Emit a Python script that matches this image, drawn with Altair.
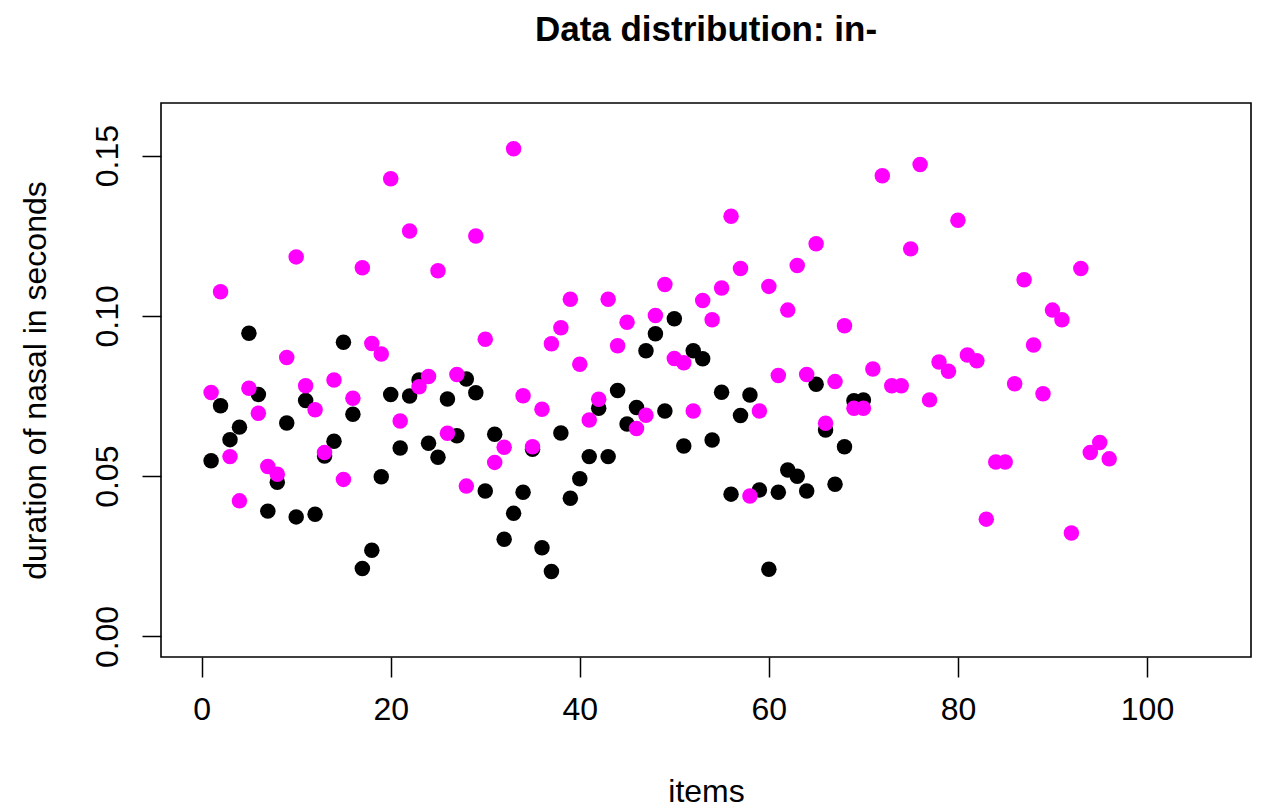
import altair as alt
import pandas as pd

# magenta series: items 1..96
magenta_y = [
    0.0761, 0.1075, 0.0561, 0.0423, 0.0774, 0.0696, 0.0530, 0.0506, 0.0870, 0.1184,
    0.0782, 0.0707, 0.0574, 0.0800, 0.0490, 0.0743, 0.1150, 0.0914, 0.0881, 0.1428,
    0.0672, 0.1265, 0.0779, 0.0811, 0.1141, 0.0634, 0.0817, 0.0469, 0.1249, 0.0927,
    0.0543, 0.0590, 0.1521, 0.0751, 0.0592, 0.0709, 0.0913, 0.0963, 0.1052, 0.0849,
    0.0675, 0.0740, 0.1052, 0.0907, 0.0980, 0.0649, 0.0690, 0.1001, 0.1098, 0.0867,
    0.0854, 0.0703, 0.1048, 0.0988, 0.1087, 0.1311, 0.1148, 0.0438, 0.0703, 0.1092,
    0.0814, 0.1018, 0.1157, 0.0817, 0.1225, 0.0665, 0.0795, 0.0969, 0.0712, 0.0712,
    0.0834, 0.1437, 0.0782, 0.0782, 0.1209, 0.1472, 0.0738, 0.0856, 0.0827, 0.1298,
    0.0878, 0.0860, 0.0366, 0.0544, 0.0544, 0.0788, 0.1113, 0.0909, 0.0757, 0.1018,
    0.0988, 0.0323, 0.1148, 0.0574, 0.0605, 0.0554,
]

# black series: items 1..70
black_y = [
    0.0548, 0.0720, 0.0614, 0.0653, 0.0946, 0.0755, 0.0391, 0.0481, 0.0666, 0.0373,
    0.0736, 0.0381, 0.0563, 0.0609, 0.0918, 0.0693, 0.0212, 0.0269, 0.0498, 0.0755,
    0.0588, 0.0750, 0.0800, 0.0603, 0.0559, 0.0741, 0.0626, 0.0803, 0.0760, 0.0454,
    0.0631, 0.0303, 0.0384, 0.0450, 0.0584, 0.0277, 0.0203, 0.0635, 0.0431, 0.0492,
    0.0561, 0.0712, 0.0561, 0.0767, 0.0663, 0.0714, 0.0891, 0.0944, 0.0703, 0.0991,
    0.0594, 0.0891, 0.0866, 0.0613, 0.0762, 0.0444, 0.0689, 0.0753, 0.0457, 0.0210,
    0.0450, 0.0519, 0.0500, 0.0454, 0.0787, 0.0644, 0.0475, 0.0592, 0.0735, 0.0738,
]

x_ticks = [0, 20, 40, 60, 80, 100]
y_ticks = [0.00, 0.05, 0.10, 0.15]

black_df = pd.DataFrame({"item": list(range(1, len(black_y) + 1)), "dur": black_y})
magenta_df = pd.DataFrame({"item": list(range(1, len(magenta_y) + 1)), "dur": magenta_y})

FONT = "Liberation Sans"

x_enc = alt.X(
    "item:Q",
    scale=alt.Scale(domain=[-4.3, 111.0], nice=False, zero=False),
    axis=alt.Axis(
        values=x_ticks, title="items", grid=False, domain=False,
        tickSize=20, tickWidth=1.5, tickColor="black",
        labelFont=FONT, labelFontSize=32, labelColor="black",
        labelBaseline="alphabetic", labelPadding=42,
        titleFont=FONT, titleFontSize=32, titleFontWeight="normal", titleColor="black",
        titleBaseline="alphabetic", titleX=545, titleY=144, titleAlign="center",
    ),
)
y_enc = alt.Y(
    "dur:Q",
    scale=alt.Scale(domain=[-0.0064, 0.1664], nice=False, zero=False),
    axis=alt.Axis(
        values=y_ticks, format=".2f", title="duration of nasal in seconds",
        grid=False, domain=False,
        tickSize=19, tickWidth=1.5, tickColor="black",
        labelFont=FONT, labelFontSize=32, labelColor="black",
        labelAngle=270, labelAlign="center", labelBaseline="alphabetic", labelPadding=25,
        titleFont=FONT, titleFontSize=32, titleFontWeight="normal", titleColor="black",
        titleAngle=270, titleAlign="center", titleBaseline="alphabetic",
        titleX=-116, titleY=277,
    ),
)

black_layer = alt.Chart(black_df).mark_circle(size=240, opacity=1, color="#000000").encode(x=x_enc, y=y_enc)
magenta_layer = alt.Chart(magenta_df).mark_circle(size=240, opacity=1, color="#FF00FF").encode(x=x_enc, y=y_enc)

chart = (
    alt.layer(black_layer, magenta_layer)
    .properties(
        width=1090,
        height=554,
        autosize=alt.AutoSizeParams(type="none"),
        padding={"left": 153, "top": 95, "right": 5, "bottom": 150},
        title=alt.TitleParams(
            "Data distribution: in-", font=FONT, fontSize=35, fontWeight="bold",
            color="black", anchor="middle", offset=55,
        ),
        background="white",
    )
    .configure_view(stroke="black", strokeWidth=1.6)
)

chart.save("out.html", embed_options={"renderer": "svg", "actions": False})
